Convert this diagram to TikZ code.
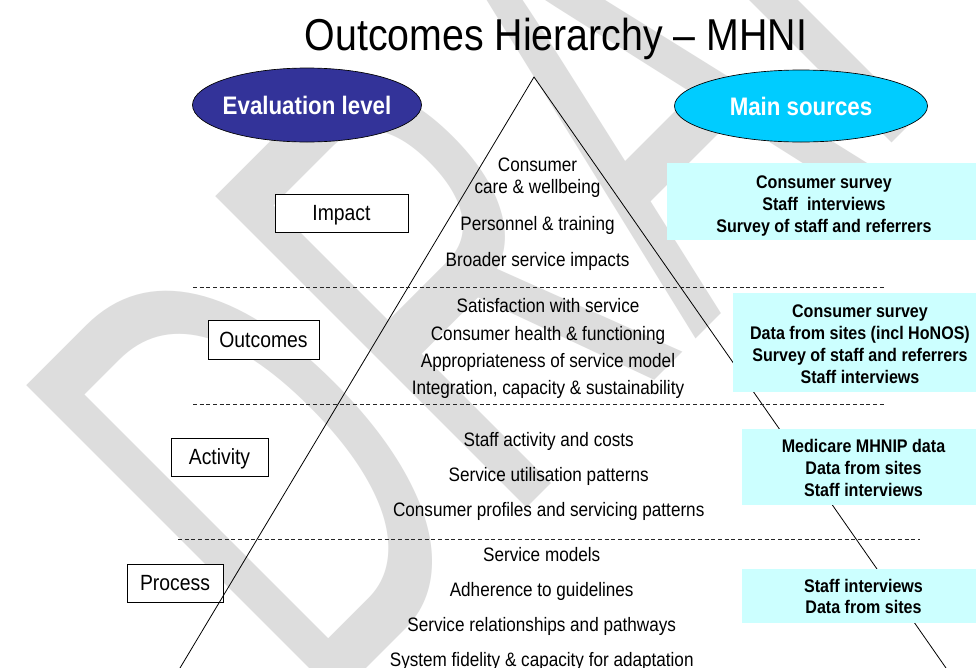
\documentclass[tikz,border=0pt]{standalone}
\usepackage{fontspec}
\setmainfont{Liberation Sans}[FakeStretch=0.88]
\newfontfamily\wmfont{Liberation Sans}[FakeStretch=0.58]
\usetikzlibrary{shapes.geometric}
\definecolor{evalblue}{HTML}{333399}
\definecolor{maincyan}{HTML}{00CCFF}
\definecolor{srcfill}{HTML}{CCFFFF}
\definecolor{wmgray}{HTML}{DDDDDD}
\begin{document}
\begin{tikzpicture}[x=0.75pt,y=-0.75pt,
  lvlbox/.style={draw=black, line width=0.6pt, fill=white, inner sep=0pt,
    font=\fontsize{16.5}{16.5}\selectfont, text height=11.8pt, text depth=0pt},
  headell/.style={ellipse, draw=black, line width=0.5pt, inner sep=0pt},
  headtxt/.style={text=white, font=\fontsize{19}{19}\selectfont\bfseries,
    inner sep=0pt, text height=13.6pt, text depth=0pt},
  pyr/.style={anchor=base, inner sep=0pt, font=\fontsize{14.6}{14.6}\selectfont},
  srcbox/.style={fill=srcfill, inner sep=0pt},
  srctxt/.style={anchor=base, inner sep=0pt, font=\fontsize{13.7}{13.7}\selectfont\bfseries},
  sepline/.style={dash pattern=on 3pt off 2pt, line width=0.6pt, black!85},
  tri/.style={line width=0.6pt, black}
]
\useasboundingbox (0,0) rectangle (976,668);
\fill[white] (0,0) rectangle (976,668);
\begin{scope}
\clip (0,0) rectangle (976,668);
\node[rotate=45, anchor=base west, text=wmgray, inner sep=0pt,
  font=\wmfont\fontsize{480}{480}\selectfont] (wm) at (316,719) {DRAFT};
\end{scope}

% title
\node[anchor=base, inner sep=0pt, font=\fontsize{33.5}{33.5}\selectfont] (title) at (556,50) {Outcomes Hierarchy – MHNI};

% header ellipses
\node[headell, fill=evalblue, minimum width=171.75pt, minimum height=55.5pt] (evalell) at (307,105) {};
\node[headtxt] (evaltxt) at (evalell.center) {Evaluation level};
\node[headell, fill=maincyan, minimum width=189.75pt, minimum height=54pt] (mainell) at (801,106) {};
\node[headtxt] (maintxt) at (mainell.center) {Main sources};

% level boxes
\node[lvlbox, minimum width=99.75pt, minimum height=28.5pt] (impact) at (341.5,213) {Impact};
\node[lvlbox, minimum width=83.25pt, minimum height=29.25pt] (outcomes) at (263.5,339.5) {Outcomes};
\node[lvlbox, minimum width=72.75pt, minimum height=28.5pt] (activity) at (219.5,457) {Activity};
\node[lvlbox, minimum width=72pt, minimum height=28.5pt] (process) at (175,583) {Process};

% pyramid
\coordinate (apex) at (534,77);
\coordinate (triL) at (180,668);
\coordinate (triR) at (946,668);
\draw[tri] (triL) -- (apex) -- (triR);

% separators
\coordinate (d1a) at (193,287); \coordinate (d1b) at (884,287);
\coordinate (d2a) at (193,404); \coordinate (d2b) at (884,404);
\coordinate (d3a) at (178,539); \coordinate (d3b) at (920,539);
\draw[sepline] (d1a) -- (d1b);
\draw[sepline] (d2a) -- (d2b);
\draw[sepline] (d3a) -- (d3b);

% source boxes
\node[srcbox, minimum width=231.75pt, minimum height=57.75pt] (src1) at (821.5,201.5) {};
\node[srcbox, minimum width=182.25pt, minimum height=74.25pt] (src2) at (854.5,342.5) {};
\node[srcbox, minimum width=175.5pt, minimum height=57pt] (src3) at (859,467) {};
\node[srcbox, minimum width=175.5pt, minimum height=40.5pt] (src4) at (859,596) {};

% pyramid texts
\node[pyr] (pt1) at (537.5,171.7) {Consumer};
\node[pyr] (pt2) at (537.5,193.3) {care \& wellbeing};
\node[pyr] (pt3) at (537.5,230) {Personnel \& training};
\node[pyr] (pt4) at (537.5,266) {Broader service impacts};
\node[pyr] (po1) at (548,312.7) {Satisfaction with service};
\node[pyr] (po2) at (548,340) {Consumer health \& functioning};
\node[pyr] (po3) at (548,367.7) {Appropriateness of service model};
\node[pyr] (po4) at (548,394) {Integration, capacity \& sustainability};
\node[pyr] (pa1) at (548.7,446) {Staff activity and costs};
\node[pyr] (pa2) at (548.7,481) {Service utilisation patterns};
\node[pyr] (pa3) at (548.7,516) {Consumer profiles and servicing patterns};
\node[pyr] (pp1) at (541.7,561.7) {Service models};
\node[pyr] (pp2) at (541.7,596.7) {Adherence to guidelines};
\node[pyr] (pp3) at (541.7,631) {Service relationships and pathways};
\node[pyr] (pp4) at (541.7,666.7) {System fidelity \& capacity for adaptation};

% source texts
\node[srctxt] (s1a) at (824,188.3) {Consumer survey};
\node[srctxt] (s1b) at (824,210.5) {Staff\ \ interviews};
\node[srctxt] (s1c) at (824,232.7) {Survey of staff and referrers};
\node[srctxt] (s2a) at (860,317) {Consumer survey};
\node[srctxt] (s2b) at (860,339.2) {Data from sites (incl HoNOS)};
\node[srctxt] (s2c) at (860,361.4) {Survey of staff and referrers};
\node[srctxt] (s2d) at (860,383.6) {Staff interviews};
\node[srctxt] (s3a) at (863.5,452.7) {Medicare MHNIP data};
\node[srctxt] (s3b) at (863.5,474.5) {Data from sites};
\node[srctxt] (s3c) at (863.5,496.3) {Staff interviews};
\node[srctxt] (s4a) at (863.5,592.3) {Staff interviews};
\node[srctxt] (s4b) at (863.5,613.8) {Data from sites};
\end{tikzpicture}
\end{document}
